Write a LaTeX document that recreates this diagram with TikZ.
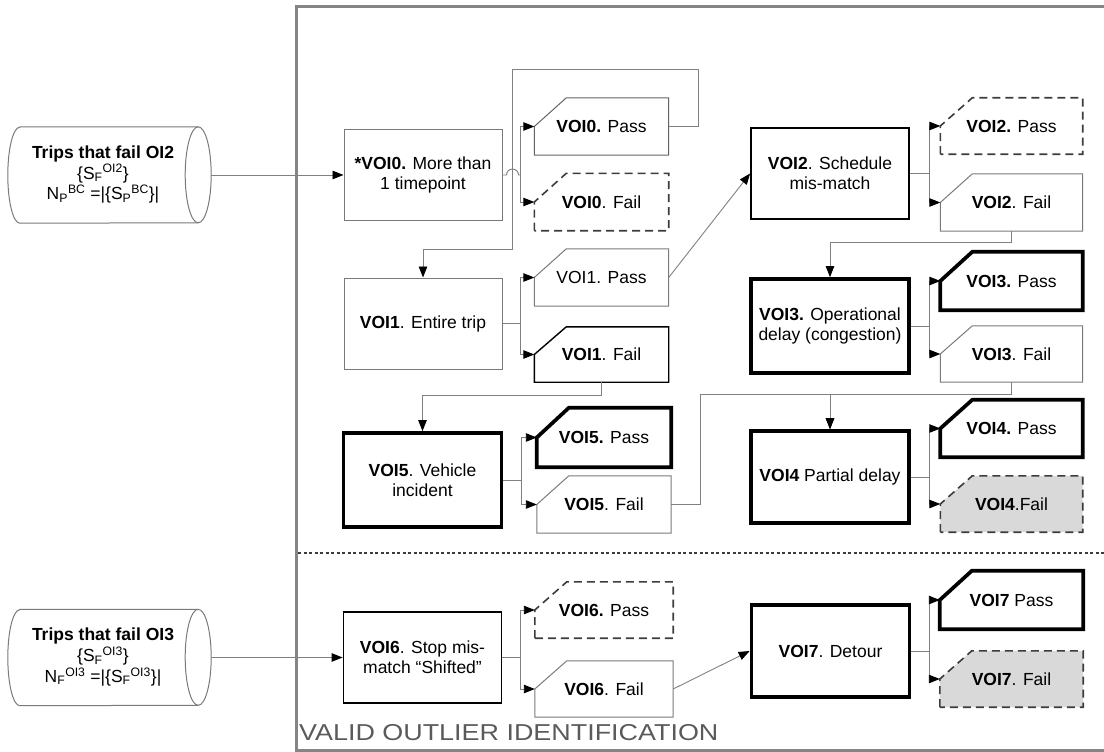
\documentclass[tikz,border=0pt]{standalone}
\usepackage{fontspec}
\setmainfont{Liberation Sans}
\usetikzlibrary{arrows.meta,calc}
\pgfdeclarelayer{background}
\pgfsetlayers{background,main}

\definecolor{lineg}{HTML}{808080}
\definecolor{boxg}{HTML}{7A7A7A}
\definecolor{dashg}{HTML}{3C3C3C}
\definecolor{fillg}{HTML}{D9D9D9}
\definecolor{frameg}{HTML}{858585}
\definecolor{titleg}{HTML}{5A5A5A}

% outline of a result box: the top-left corner is cut off
\newcommand\cutframe[2]{%
  \begin{pgfonlayer}{background}
    \draw[#1] (#2.south west) -- (#2.west) -- ([xshift=32pt]#2.north west)
      -- (#2.north east) -- (#2.south east) -- cycle;
  \end{pgfonlayer}}

% horizontal data store drawn around a node
\newcommand\storeframe[1]{%
  \draw[cylline] ([xshift=12pt]#1.north west) -- ([xshift=-13pt]#1.north east)
    arc[start angle=90, end angle=-90, x radius=13pt, y radius=48pt]
    -- ([xshift=12pt]#1.south west)
    arc[start angle=270, end angle=90, x radius=12pt, y radius=48pt] -- cycle;
  \draw[cylline] ([xshift=-13pt]#1.north east)
    arc[start angle=90, end angle=270, x radius=13pt, y radius=48pt];}

\begin{document}
\begin{tikzpicture}[x=1pt, y=-1pt,
  font=\fontsize{17.5pt}{20pt}\selectfont,
  stepbox/.style={rectangle, minimum width=158pt, minimum height=91pt,
    inner sep=2pt, align=center},
  thinb/.style={draw=boxg, line width=1pt},
  midb/.style={draw=black, line width=1.8pt},
  thickb/.style={draw=black, line width=3.7pt},
  dashb/.style={draw=dashg, line width=1.6pt, dash pattern=on 8pt off 5pt},
  res/.style={rectangle, minimum width=134pt, minimum height=57pt, inner sep=0pt},
  resr/.style={res, minimum width=142pt},
  store/.style={rectangle, minimum width=203pt, minimum height=96pt, inner sep=0pt},
  cylline/.style={draw=boxg, line width=1pt},
  conn/.style={draw=lineg, line width=0.9pt},
  arr/.style={conn, -{Triangle[length=11pt, width=8.5pt, color=black]}},
]
\useasboundingbox (0,0) rectangle (1104,752);
\clip (0,0) rectangle (1104,752);

% ---- frame of the identification stage
\draw[draw=frameg, line width=3pt] (1110,7) -- (296,7) -- (296,750) -- (1110,750);
\draw[draw=dashg, line width=1.5pt, dash pattern=on 3pt off 2.5pt] (298,553) -- (1104,553);
\node[anchor=base west, inner sep=0pt, text=titleg, font=\fontsize{23pt}{26pt}\selectfont]
  (title) at (299,740) {\scalebox{1.17}[1]{VALID OUTLIER IDENTIFICATION}};

% ---- input data stores
\node[store] (c1) at (109.5,175) {\begin{tabular}{@{}c@{}}\textbf{Trips that fail OI2}\\
  \{S\textsubscript{F}\textsuperscript{OI2}\}\\
  N\textsubscript{P}\textsuperscript{BC} =|\{S\textsubscript{P}\textsuperscript{BC}\}|\end{tabular}\hspace*{13pt}};
\storeframe{c1}
\node[store] (c2) at (109.5,657.5) {\begin{tabular}{@{}c@{}}\textbf{Trips that fail OI3}\\
  \{S\textsubscript{F}\textsuperscript{OI3}\}\\
  N\textsubscript{F}\textsuperscript{OI3} =|\{S\textsubscript{F}\textsuperscript{OI3}\}|\end{tabular}\hspace*{13pt}};
\storeframe{c2}

% ---- test steps
\node[stepbox, thinb]  (v0) at (423,175)   {\textbf{*VOI0.} More than\\1 timepoint};
\node[stepbox, thinb]  (v1) at (423,323.5) {\textbf{VOI1}. Entire trip};
\node[stepbox, thickb, minimum height=94pt] (v5) at (422.5,480) {\textbf{VOI5}. Vehicle\\incident};
\node[stepbox, midb]   (v2) at (830,173.5) {\textbf{VOI2}. Schedule\\mis-match};
\node[stepbox, thickb, minimum height=94pt] (v3) at (830,326) {\textbf{VOI3.} Operational\\delay (congestion)};
\node[stepbox, thickb, minimum height=92pt] (v4) at (830,477) {\textbf{VOI4} Partial delay};
\node[stepbox, midb]   (v6) at (422.5,657.5) {\textbf{VOI6}. Stop mis-\\match “Shifted”};
\node[stepbox, thickb, minimum height=92pt] (v7) at (830.5,651) {\textbf{VOI7}. Detour};

% ---- outcomes
\node[res] (p0) at (601.5,126.5) {\textbf{VOI0.} Pass};   \cutframe{thinb, draw=dashg!80}{p0}
\node[res] (q0) at (601.5,202)   {\textbf{VOI0}. Fail};   \cutframe{dashb}{q0}
\node[res] (p1) at (601.5,277.5) {VOI1. Pass};            \cutframe{thinb}{p1}
\node[res, minimum height=55pt] (f1) at (601.5,354.5) {\textbf{VOI1}. Fail}; \cutframe{midb, line width=1.4pt}{f1}
\node[res, minimum height=59pt] (p5) at (604,437.5) {\textbf{VOI5.} Pass}; \cutframe{thickb}{p5}
\node[res] (f5) at (604,504.5)   {\textbf{VOI5}. Fail};   \cutframe{thinb}{f5}

\node[resr, minimum height=56pt] (p2) at (1011.5,126) {\textbf{VOI2.} Pass}; \cutframe{dashb}{p2}
\node[resr] (f2) at (1011.5,202.5) {\textbf{VOI2}. Fail};  \cutframe{thinb}{f2}
\node[resr, minimum height=58pt] (p3) at (1011.5,281) {\textbf{VOI3.} Pass}; \cutframe{thickb}{p3}
\node[resr, minimum height=56pt] (f3) at (1011.5,354) {\textbf{VOI3}. Fail}; \cutframe{thinb}{f3}
\node[resr] (p4) at (1011.5,428.5) {\textbf{VOI4.} Pass};  \cutframe{thickb}{p4}
\node[resr, minimum height=56pt] (f4) at (1011.5,504) {\textbf{VOI4}.Fail}; \cutframe{dashb, fill=fillg}{f4}

\node[res, minimum width=138pt, minimum height=56pt] (p6) at (604,610) {\textbf{VOI6.} Pass}; \cutframe{dashb}{p6}
\node[res, minimum width=138pt, minimum height=56pt] (f6) at (604,689) {\textbf{VOI6}. Fail}; \cutframe{thinb}{f6}
\node[resr, minimum width=143pt, minimum height=58pt] (p7) at (1011.5,600) {\textbf{VOI7} Pass}; \cutframe{thickb}{p7}
\node[resr, minimum width=143pt, minimum height=56pt] (f7) at (1011.5,679) {\textbf{VOI7}. Fail}; \cutframe{dashb, fill=fillg}{f7}

% ---- connectors
\draw[arr] (c1.east) -- (v0.west);
\draw[arr] (c2.east) -- (v6.west);

\draw[conn] (v0.east) -- ++(4,0) arc[start angle=180, end angle=0, radius=6pt] -- ++(2,0) coordinate (t0);
\draw[arr] (t0) |- (p0.west);
\draw[arr] (t0) |- (q0.west);
\coordinate (lA) at (698,69);
\coordinate (lB) at (512,249);
\draw[arr] (p0.east) -| (lA) -| (lB) -| (v1.north);

\draw[conn] (v1.east) -- ++(18,0) coordinate (t1);
\draw[arr] (t1) |- (p1.west);
\draw[arr] (t1) |- (f1.west);
\draw[arr] (p1.east) -- (v2.west);
\draw[arr] (f1.south) -- ++(0,13) -| (v5.north);

\draw[conn] (v5.east) -- ++(18,0) coordinate (t5);
\draw[arr] (t5) |- (p5.west);
\draw[arr] (t5) |- (f5.west);
\coordinate (j5) at (700,394);
\draw[arr] (f5.east) -| (j5) -| (v4.north);

\draw[conn] (v2.east) -- ++(20,0) coordinate (t2);
\draw[arr] (t2) |- (p2.west);
\draw[arr] (t2) |- (f2.west);
\draw[arr] (f2.south) -- ++(0,11) -| (v3.north);

\draw[conn] (v3.east) -- ++(19,0) coordinate (t3);
\draw[arr] (t3) |- (p3.west);
\draw[arr] (t3) |- (f3.west);
\draw[arr] (f3.south) -- ++(0,12) -| (v4.north);

\draw[conn] (v4.east) -- ++(19,0) coordinate (t4);
\draw[arr] (t4) |- (p4.west);
\draw[arr] (t4) |- (f4.west);

\draw[conn] (v6.east) -- ++(18,0) coordinate (t6);
\draw[arr] (t6) |- (p6.west);
\draw[arr] (t6) |- (f6.west);
\draw[arr] (f6.east) -- (v7.west);

\draw[conn] (v7.east) -- ++(18,0) coordinate (t7);
\draw[arr] (t7) |- (p7.west);
\draw[arr] (t7) |- (f7.west);
\end{tikzpicture}
\end{document}
